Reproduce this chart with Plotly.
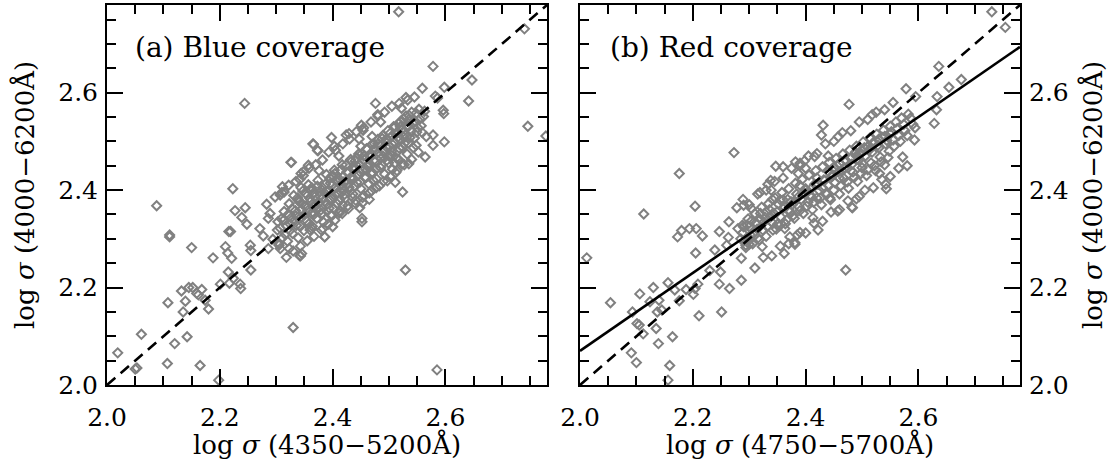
import numpy as np
import plotly.graph_objects as go

# ---------------- data ----------------
# Panel (a): blue coverage  -- outliers / sparse points
xa_sparse = [2.019, 2.061, 2.050, 2.053, 2.107, 2.120, 2.142, 2.165, 2.198, 2.088,
             2.111, 2.108, 2.135, 2.139, 2.132, 2.145, 2.152, 2.159, 2.168, 2.162,
             2.174, 2.180, 2.150, 2.188, 2.201, 2.210, 2.214, 2.221, 2.216, 2.219,
             2.223, 2.227, 2.239, 2.245, 2.248, 2.215, 2.217, 2.224, 2.236, 2.237,
             2.255, 2.254, 2.255, 2.271, 2.277, 2.283, 2.289, 2.286, 2.286, 2.294,
             2.298, 2.307, 2.311, 2.314, 2.326, 2.330, 2.342, 2.323, 2.307, 2.305,
             2.366, 2.373, 2.357, 2.342, 2.348, 2.339, 2.386, 2.383, 2.363, 2.111,
             2.244, 2.327, 2.529, 2.585, 2.343,
             2.517, 2.740, 2.578, 2.647, 2.641, 2.746, 2.778, 2.598, 2.582, 2.586,
             2.596, 2.597, 2.559, 2.545, 2.533, 2.476, 2.480, 2.451, 2.454, 2.424,
             2.429, 2.398, 2.403, 2.365, 2.374, 2.344, 2.578, 2.566, 2.598, 2.564,
             2.578, 2.535, 2.512, 2.511, 2.524, 2.518, 2.465, 2.453, 2.448, 2.452,
             2.452, 2.400, 2.386, 2.412, 2.418, 2.345]
ya_sparse = [2.066, 2.104, 2.033, 2.035, 2.044, 2.085, 2.099, 2.040, 2.010, 2.368,
             2.304, 2.169, 2.150, 2.172, 2.193, 2.200, 2.200, 2.188, 2.196, 2.185,
             2.174, 2.156, 2.282, 2.261, 2.207, 2.284, 2.271, 2.260, 2.315, 2.315,
             2.403, 2.358, 2.344, 2.364, 2.330, 2.232, 2.209, 2.219, 2.207, 2.198,
             2.236, 2.287, 2.276, 2.321, 2.306, 2.371, 2.352, 2.342, 2.280, 2.299,
             2.386, 2.390, 2.407, 2.396, 2.457, 2.118, 2.265, 2.280, 2.280, 2.291,
             2.494, 2.482, 2.451, 2.422, 2.438, 2.379, 2.304, 2.321, 2.321, 2.308,
             2.578, 2.457, 2.236, 2.031, 2.265,
             2.766, 2.731, 2.654, 2.626, 2.583, 2.531, 2.511, 2.611, 2.593, 2.589,
             2.564, 2.557, 2.609, 2.591, 2.585, 2.578, 2.555, 2.533, 2.523, 2.513,
             2.516, 2.508, 2.490, 2.495, 2.481, 2.434, 2.513, 2.510, 2.499, 2.468,
             2.492, 2.454, 2.436, 2.416, 2.396, 2.462, 2.381, 2.374, 2.364, 2.342,
             2.335, 2.325, 2.304, 2.353, 2.370, 2.270]

# Panel (a): dense core of the cloud
xa_core = [2.302, 2.305, 2.309, 2.311, 2.314, 2.318, 2.320, 2.323, 2.326, 2.329,
           2.331, 2.334, 2.336, 2.339, 2.341, 2.344, 2.347, 2.349, 2.352, 2.354,
           2.357, 2.359, 2.362, 2.364, 2.367, 2.369, 2.372, 2.374, 2.377, 2.379,
           2.382, 2.384, 2.386, 2.389, 2.391, 2.394, 2.396, 2.398, 2.401, 2.403,
           2.405, 2.408, 2.410, 2.413, 2.415, 2.417, 2.420, 2.422, 2.425, 2.427,
           2.429, 2.432, 2.434, 2.436, 2.439, 2.441, 2.443, 2.446, 2.448, 2.450,
           2.453, 2.455, 2.457, 2.460, 2.462, 2.464, 2.467, 2.469, 2.471, 2.474,
           2.476, 2.478, 2.481, 2.483, 2.485, 2.488, 2.490, 2.492, 2.495, 2.497,
           2.499, 2.502, 2.504, 2.506, 2.509, 2.511, 2.513, 2.516, 2.518, 2.520,
           2.523, 2.525, 2.527, 2.530, 2.532, 2.535, 2.537, 2.540, 2.543, 2.546,
           2.549, 2.553, 2.557, 2.561,
           2.325, 2.345, 2.365, 2.385, 2.395, 2.405, 2.415, 2.425, 2.435, 2.445,
           2.455, 2.465, 2.475, 2.485, 2.495, 2.505, 2.515, 2.525, 2.535, 2.360,
           2.380, 2.400, 2.420, 2.440, 2.460, 2.480, 2.500, 2.520, 2.470, 2.450,
           2.303, 2.307, 2.313, 2.316, 2.321, 2.324, 2.328, 2.332, 2.335, 2.338,
           2.343, 2.346, 2.350, 2.353, 2.356, 2.358, 2.361, 2.363, 2.366, 2.368,
           2.371, 2.373, 2.376, 2.378, 2.381, 2.383, 2.387, 2.390, 2.393, 2.395,
           2.397, 2.400, 2.402, 2.404, 2.407, 2.409, 2.412, 2.414, 2.416, 2.419,
           2.421, 2.424, 2.426, 2.428, 2.431, 2.433, 2.435, 2.438, 2.440, 2.442,
           2.445, 2.447, 2.449, 2.452, 2.454, 2.456, 2.459, 2.461, 2.463, 2.466,
           2.468, 2.470, 2.473, 2.475, 2.477, 2.480, 2.482, 2.484, 2.487, 2.489,
           2.491, 2.494, 2.496, 2.498, 2.501, 2.503, 2.505, 2.508, 2.510, 2.512,
           2.515, 2.517, 2.519, 2.522, 2.524, 2.526, 2.529, 2.531, 2.534, 2.536,
           2.539, 2.542, 2.545, 2.548, 2.551, 2.555, 2.559, 2.563,
           # looser halo around the core
           2.310, 2.322, 2.335, 2.348, 2.358, 2.370, 2.382, 2.393, 2.405, 2.418,
           2.430, 2.442, 2.455, 2.468, 2.480, 2.492, 2.505, 2.518, 2.530, 2.344,
           2.376, 2.411, 2.447, 2.485, 2.522,
           2.318, 2.330, 2.343, 2.355, 2.367, 2.380, 2.392, 2.404, 2.417, 2.428,
           2.441, 2.453, 2.465, 2.477, 2.490, 2.502, 2.514, 2.527, 2.540, 2.552,
           2.360, 2.398, 2.435, 2.472, 2.510, 2.548]
ya_core = [2.318, 2.287, 2.341, 2.302, 2.356, 2.327, 2.295, 2.372, 2.343, 2.311,
           2.389, 2.358, 2.328, 2.302, 2.376, 2.345, 2.398, 2.317, 2.366, 2.337,
           2.411, 2.384, 2.352, 2.326, 2.395, 2.371, 2.342, 2.420, 2.388, 2.359,
           2.405, 2.334, 2.377, 2.432, 2.396, 2.363, 2.414, 2.347, 2.386, 2.441,
           2.405, 2.372, 2.425, 2.358, 2.396, 2.452, 2.417, 2.383, 2.437, 2.368,
           2.406, 2.463, 2.428, 2.392, 2.447, 2.379, 2.416, 2.474, 2.438, 2.403,
           2.457, 2.389, 2.426, 2.485, 2.448, 2.413, 2.468, 2.399, 2.436, 2.495,
           2.459, 2.423, 2.478, 2.409, 2.446, 2.506, 2.469, 2.433, 2.489, 2.419,
           2.456, 2.517, 2.479, 2.443, 2.499, 2.530, 2.466, 2.509, 2.486, 2.541,
           2.453, 2.520, 2.496, 2.552, 2.474, 2.531, 2.508, 2.560, 2.487, 2.542,
           2.519, 2.566, 2.532, 2.551,
           2.330, 2.360, 2.355, 2.395, 2.380, 2.420, 2.410, 2.420, 2.445, 2.430,
           2.470, 2.455, 2.480, 2.465, 2.505, 2.495, 2.520, 2.510, 2.545, 2.400,
           2.350, 2.430, 2.400, 2.460, 2.440, 2.495, 2.470, 2.530, 2.510, 2.490,
           2.335, 2.322, 2.338, 2.309, 2.350, 2.317, 2.362, 2.337, 2.347, 2.384,
           2.326, 2.372, 2.349, 2.392, 2.358, 2.331, 2.377, 2.405, 2.349, 2.386,
           2.362, 2.408, 2.374, 2.397, 2.352, 2.385, 2.412, 2.371, 2.399, 2.425,
           2.383, 2.411, 2.362, 2.434, 2.393, 2.416, 2.378, 2.441, 2.402, 2.428,
           2.391, 2.452, 2.414, 2.436, 2.398, 2.459, 2.421, 2.441, 2.408, 2.466,
           2.432, 2.452, 2.417, 2.475, 2.441, 2.462, 2.426, 2.484, 2.451, 2.473,
           2.434, 2.494, 2.461, 2.486, 2.443, 2.504, 2.470, 2.491, 2.452, 2.512,
           2.481, 2.499, 2.461, 2.522, 2.490, 2.508, 2.471, 2.530, 2.497, 2.515,
           2.479, 2.536, 2.504, 2.524, 2.488, 2.546, 2.513, 2.531, 2.497, 2.553,
           2.521, 2.537, 2.507, 2.558, 2.528, 2.546, 2.518, 2.562,
           2.395, 2.410, 2.418, 2.430, 2.445, 2.452, 2.462, 2.478, 2.482, 2.495,
           2.505, 2.520, 2.528, 2.540, 2.552, 2.560, 2.572, 2.578, 2.590, 2.405,
           2.440, 2.470, 2.505, 2.540, 2.568,
           2.262, 2.275, 2.285, 2.296, 2.305, 2.318, 2.330, 2.338, 2.352, 2.362,
           2.372, 2.385, 2.394, 2.405, 2.418, 2.428, 2.440, 2.452, 2.463, 2.478,
           2.318, 2.350, 2.385, 2.420, 2.455, 2.492]

# Panel (b): red coverage  -- outliers / sparse points
xb_sparse = [2.012, 2.054, 2.113, 2.176, 2.273, 2.347, 2.093, 2.101, 2.105, 2.112,
             2.106, 2.130, 2.124, 2.140, 2.145, 2.137, 2.156, 2.168, 2.176, 2.135,
             2.139, 2.164, 2.091, 2.100, 2.159, 2.156, 2.173, 2.180, 2.194, 2.206,
             2.217, 2.204, 2.205, 2.188, 2.201, 2.204, 2.209, 2.211, 2.230, 2.247,
             2.251, 2.249, 2.239, 2.247, 2.264, 2.263, 2.260, 2.265, 2.278, 2.289,
             2.290, 2.304, 2.280, 2.288, 2.286, 2.286, 2.294, 2.300, 2.319, 2.323,
             2.333, 2.339, 2.341, 2.355, 2.381, 2.382, 2.372, 2.363, 2.471,
             2.730, 2.754, 2.636, 2.676, 2.654, 2.633, 2.632, 2.628, 2.578, 2.595,
             2.477, 2.431, 2.428, 2.416, 2.390, 2.387, 2.360, 2.543, 2.531, 2.572,
             2.593, 2.516, 2.483, 2.495, 2.457, 2.443, 2.413, 2.381, 2.390]
yb_sparse = [2.261, 2.169, 2.351, 2.434, 2.477, 2.449, 2.150, 2.126, 2.123, 2.105,
             2.187, 2.200, 2.171, 2.174, 2.154, 2.150, 2.210, 2.195, 2.173, 2.116,
             2.085, 2.099, 2.066, 2.046, 2.040, 2.010, 2.304, 2.317, 2.321, 2.321,
             2.306, 2.367, 2.271, 2.196, 2.186, 2.198, 2.207, 2.142, 2.235, 2.207,
             2.150, 2.232, 2.277, 2.315, 2.335, 2.303, 2.287, 2.198, 2.364, 2.381,
             2.369, 2.362, 2.321, 2.328, 2.215, 2.260, 2.287, 2.297, 2.395, 2.284,
             2.412, 2.400, 2.381, 2.380, 2.289, 2.458, 2.304, 2.321, 2.236,
             2.766, 2.734, 2.654, 2.627, 2.611, 2.592, 2.565, 2.537, 2.608, 2.592,
             2.576, 2.533, 2.513, 2.469, 2.455, 2.434, 2.448, 2.403, 2.434, 2.468,
             2.503, 2.487, 2.364, 2.387, 2.357, 2.384, 2.343, 2.292, 2.313]

# Panel (b): dense core of the cloud
xb_core = [2.285, 2.290, 2.294, 2.298, 2.302, 2.306, 2.310, 2.314, 2.318, 2.322,
           2.326, 2.330, 2.334, 2.338, 2.342, 2.346, 2.350, 2.354, 2.358, 2.362,
           2.366, 2.370, 2.374, 2.378, 2.382, 2.386, 2.390, 2.394, 2.398, 2.402,
           2.406, 2.410, 2.414, 2.418, 2.422, 2.426, 2.430, 2.434, 2.438, 2.442,
           2.446, 2.450, 2.454, 2.458, 2.462, 2.466, 2.470, 2.474, 2.478, 2.482,
           2.486, 2.490, 2.494, 2.498, 2.502, 2.506, 2.510, 2.514, 2.518, 2.522,
           2.526, 2.530, 2.534, 2.538, 2.542, 2.546, 2.550, 2.555, 2.560, 2.565,
           2.570, 2.576, 2.582, 2.590,
           2.300, 2.320, 2.340, 2.360, 2.380, 2.400, 2.420, 2.440, 2.460, 2.480,
           2.500, 2.520, 2.540, 2.330, 2.370, 2.410, 2.450, 2.490, 2.530, 2.350,
           2.390, 2.430, 2.470, 2.510, 2.550, 2.440, 2.400, 2.500, 2.460,
           2.288, 2.292, 2.296, 2.300, 2.304, 2.308, 2.312, 2.316, 2.320, 2.324,
           2.328, 2.332, 2.336, 2.340, 2.344, 2.348, 2.352, 2.356, 2.360, 2.364,
           2.368, 2.372, 2.376, 2.380, 2.384, 2.388, 2.392, 2.396, 2.400, 2.404,
           2.408, 2.412, 2.416, 2.420, 2.424, 2.428, 2.432, 2.436, 2.440, 2.444,
           2.448, 2.452, 2.456, 2.460, 2.464, 2.468, 2.472, 2.476, 2.480, 2.484,
           2.488, 2.492, 2.496, 2.500, 2.504, 2.508, 2.512, 2.516, 2.520, 2.524,
           2.528, 2.532, 2.536, 2.540, 2.544, 2.548, 2.552, 2.557, 2.562, 2.568,
           2.574, 2.580, 2.586, 2.594,
           # looser halo around the core
           2.300, 2.315, 2.330, 2.345, 2.360, 2.375, 2.390, 2.405, 2.420, 2.435,
           2.450, 2.465, 2.480, 2.495, 2.510, 2.525, 2.540, 2.555, 2.338, 2.398,
           2.458, 2.518,
           2.310, 2.325, 2.340, 2.355, 2.370, 2.385, 2.400, 2.415, 2.430, 2.445,
           2.460, 2.475, 2.490, 2.505, 2.520, 2.535, 2.550, 2.565, 2.580, 2.362,
           2.422, 2.482, 2.542]
yb_core = [2.300, 2.325, 2.282, 2.341, 2.308, 2.290, 2.352, 2.320, 2.298, 2.365,
           2.334, 2.305, 2.372, 2.345, 2.318, 2.384, 2.356, 2.327, 2.395, 2.366,
           2.339, 2.403, 2.376, 2.348, 2.414, 2.385, 2.358, 2.422, 2.394, 2.367,
           2.431, 2.403, 2.375, 2.440, 2.412, 2.384, 2.448, 2.420, 2.392, 2.457,
           2.428, 2.400, 2.465, 2.437, 2.409, 2.474, 2.445, 2.417, 2.482, 2.453,
           2.426, 2.490, 2.462, 2.434, 2.499, 2.470, 2.442, 2.507, 2.478, 2.450,
           2.515, 2.487, 2.458, 2.523, 2.495, 2.467, 2.531, 2.503, 2.540, 2.512,
           2.548, 2.522, 2.556, 2.535,
           2.325, 2.340, 2.350, 2.380, 2.375, 2.400, 2.425, 2.410, 2.455, 2.440,
           2.480, 2.495, 2.510, 2.355, 2.360, 2.385, 2.445, 2.470, 2.505, 2.330,
           2.410, 2.405, 2.462, 2.488, 2.515, 2.470, 2.445, 2.455, 2.425,
           2.312, 2.296, 2.328, 2.289, 2.337, 2.311, 2.333, 2.302, 2.352, 2.318,
           2.344, 2.325, 2.360, 2.334, 2.352, 2.320, 2.371, 2.345, 2.362, 2.331,
           2.381, 2.355, 2.370, 2.342, 2.392, 2.366, 2.381, 2.352, 2.403, 2.375,
           2.390, 2.360, 2.412, 2.384, 2.399, 2.370, 2.421, 2.393, 2.438, 2.380,
           2.431, 2.415, 2.450, 2.392, 2.440, 2.424, 2.460, 2.404, 2.465, 2.437,
           2.478, 2.418, 2.473, 2.446, 2.487, 2.430, 2.482, 2.456, 2.498, 2.440,
           2.492, 2.468, 2.508, 2.452, 2.502, 2.480, 2.520, 2.490, 2.526, 2.500,
           2.535, 2.512, 2.548, 2.528,
           2.370, 2.392, 2.400, 2.418, 2.425, 2.445, 2.450, 2.470, 2.475, 2.495,
           2.500, 2.518, 2.522, 2.540, 2.545, 2.560, 2.565, 2.580, 2.420, 2.460,
           2.510, 2.555,
           2.240, 2.262, 2.265, 2.285, 2.290, 2.308, 2.312, 2.332, 2.336, 2.355,
           2.360, 2.378, 2.382, 2.400, 2.405, 2.422, 2.428, 2.445, 2.450, 2.270,
           2.318, 2.365, 2.412]

axis_range = [2.0, 2.78]
major_ticks = [2.0, 2.2, 2.4, 2.6]
tick_text = ["2.0", "2.2", "2.4", "2.6"]
minor_ticks = [2.05, 2.10, 2.15, 2.25, 2.30, 2.35, 2.45, 2.50, 2.55, 2.65, 2.70, 2.75]
fit_b = [0.80, 0.47]          # solid line in panel (b): y = 0.80 x + 0.47

# ---------------- figure ----------------
FONT = "DejaVu Serif"
GRAY = "rgb(128,128,128)"

fig = go.Figure()

def add_points(xs, ys, xa, ya):
    fig.add_trace(go.Scatter(
        x=xs, y=ys, mode="markers", xaxis=xa, yaxis=ya, showlegend=False,
        marker=dict(symbol="diamond-open", size=7, color=GRAY,
                    line=dict(color=GRAY, width=2))))

add_points(xa_sparse + xa_core, ya_sparse + ya_core, "x", "y")
add_points(xb_sparse + xb_core, yb_sparse + yb_core, "x2", "y2")

line_x = np.array(axis_range)
for xa, ya in (("x", "y"), ("x2", "y2")):
    fig.add_trace(go.Scatter(x=line_x, y=line_x, mode="lines", xaxis=xa, yaxis=ya,
                             showlegend=False,
                             line=dict(color="black", width=2.6, dash="11px,7px")))
fig.add_trace(go.Scatter(x=line_x, y=fit_b[0] * line_x + fit_b[1], mode="lines",
                         xaxis="x2", yaxis="y2", showlegend=False,
                         line=dict(color="black", width=2.6)))

W, H = 1109, 463
def dx(px):
    return px / W
def dy(py):
    return 1 - py / H

TICK_FONT = dict(family=FONT, size=25, color="black")
common = dict(range=axis_range, tickmode="array", tickvals=major_ticks,
              ticktext=tick_text, ticks="inside", ticklen=16, tickwidth=2,
              tickcolor="black", showline=True, linecolor="black", linewidth=2,
              mirror="ticks", showgrid=False, zeroline=False, automargin=False,
              tickfont=TICK_FONT,
              minor=dict(tickmode="array", tickvals=minor_ticks,
                         ticks="inside", ticklen=9, tickwidth=2, tickcolor="black",
                         showgrid=False))

fig.update_layout(
    width=W, height=H, margin=dict(l=0, r=0, t=0, b=0),
    paper_bgcolor="white", plot_bgcolor="white",
    xaxis=dict(domain=[dx(107), dx(547)], anchor="y", ticklabelstandoff=9, **common),
    yaxis=dict(domain=[dy(385), dy(5)], anchor="x", ticklabelstandoff=2, **common),
    xaxis2=dict(domain=[dx(580), dx(1020)], anchor="y2", ticklabelstandoff=9, **common),
    yaxis2=dict(domain=[dy(385), dy(5)], anchor="x2", side="right",
                ticklabelstandoff=2, **common),
)

title_font = dict(family=FONT, size=26, color="black")
x_title_a = "log <i>σ</i> (4350−5200Å)"
x_title_b = "log <i>σ</i> (4750−5700Å)"
y_title = "log <i>σ</i> (4000−6200Å)"

# axis titles
fig.add_annotation(xref="x domain", yref="paper", x=0.5, y=dy(444), yanchor="middle",
                   showarrow=False, text=x_title_a, font=title_font)
fig.add_annotation(xref="x2 domain", yref="paper", x=0.5, y=dy(444), yanchor="middle",
                   showarrow=False, text=x_title_b, font=title_font)
fig.add_annotation(xref="paper", yref="y domain", x=dx(25), y=0.5, xanchor="center",
                   textangle=-90, showarrow=False, text=y_title, font=title_font)
fig.add_annotation(xref="paper", yref="y2 domain", x=dx(1093), y=0.5, xanchor="center",
                   textangle=-90, showarrow=False, text=y_title, font=title_font)

# panel labels
lab_font = dict(family=FONT, size=28, color="black")
fig.add_annotation(xref="x domain", yref="y domain", x=0.059, y=0.887,
                   xanchor="left", yanchor="middle", showarrow=False,
                   text="(a) Blue coverage", font=lab_font)
fig.add_annotation(xref="x2 domain", yref="y2 domain", x=0.064, y=0.887,
                   xanchor="left", yanchor="middle", showarrow=False,
                   text="(b) Red coverage", font=lab_font)

fig.write_html("out.html")
